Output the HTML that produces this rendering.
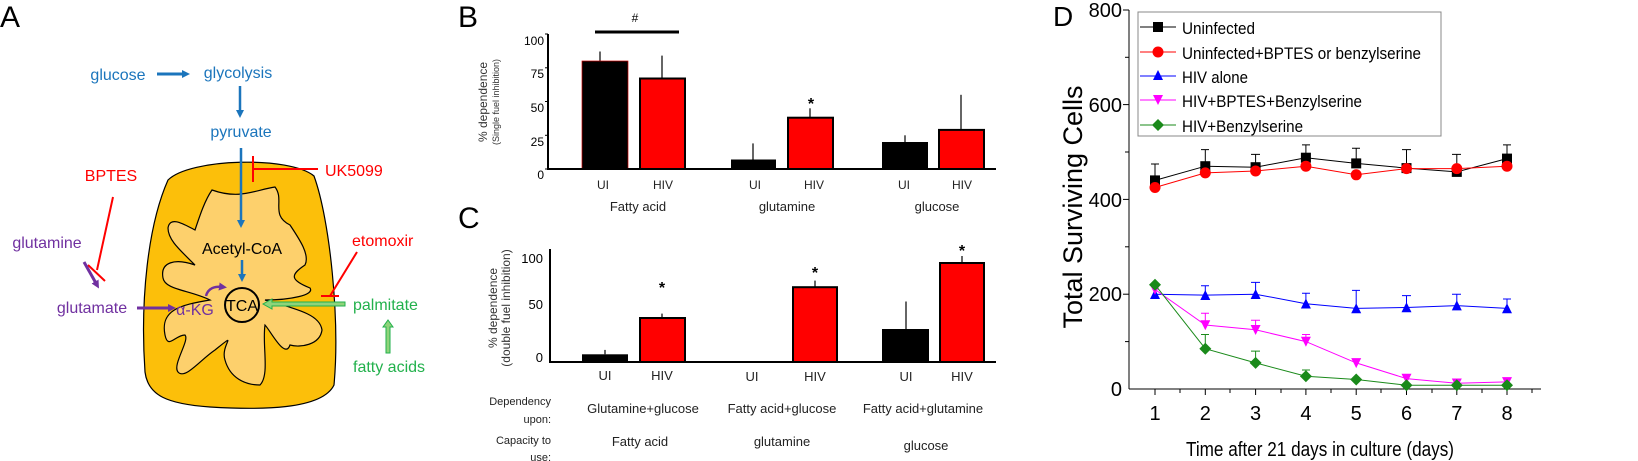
<!DOCTYPE html>
<html><head><meta charset="utf-8"><style>
html,body{margin:0;padding:0;background:#fff;}
svg{display:block;font-family:"Liberation Sans",sans-serif;}
</style></head><body>
<svg width="1638" height="461" viewBox="0 0 1638 461" xmlns="http://www.w3.org/2000/svg">
<defs>
<marker id="ab" markerUnits="userSpaceOnUse" markerWidth="8" markerHeight="8" refX="4" refY="4" orient="auto"><path d="M0,0 L8,4 L0,8z" fill="#1b75bc"/></marker>
<marker id="ap" markerUnits="userSpaceOnUse" markerWidth="8" markerHeight="8" refX="4" refY="4" orient="auto"><path d="M0,0 L8,4 L0,8z" fill="#7030a0"/></marker>
</defs>
<!-- Panel A -->
<text x="0" y="27" font-size="30">A</text>
<path d="M168,180 C190,158 290,156 314,176 C330,220 340,320 334,385 C322,410 260,410 210,407 C168,404 148,396 145,372 C140,300 148,225 168,180Z" fill="#fcbf0a" stroke="#000" stroke-width="1.2"/>
<path d="M212,190 C240,200 255,190 275,187 C285,200 270,215 290,225 C300,240 310,255 305,265 C290,275 290,280 310,288 C315,295 290,300 265,300 C300,310 320,315 322,330 C320,345 300,348 290,345 C285,360 270,330 265,325 C262,345 270,375 260,385 C245,385 230,378 225,360 C220,345 240,330 215,350 C200,360 185,380 178,372 C172,365 190,340 185,335 C175,335 168,350 165,335 C160,310 180,305 210,300 C190,290 165,290 163,278 C160,262 175,258 195,265 C180,250 168,240 168,228 C170,215 185,225 195,230 C200,215 205,200 212,190Z" fill="#fdd06c" stroke="#000" stroke-width="1.2"/>
<g font-size="16" fill="#1b75bc">
<text x="118" y="80" text-anchor="middle">glucose</text>
<text x="238" y="78" text-anchor="middle">glycolysis</text>
<text x="241" y="137" text-anchor="middle">pyruvate</text>
</g>
<line x1="157" y1="74" x2="186" y2="74" stroke="#1b75bc" stroke-width="3" marker-end="url(#ab)"/>
<line x1="240" y1="86" x2="240" y2="114" stroke="#1b75bc" stroke-width="2.5" marker-end="url(#ab)"/>
<line x1="241" y1="148" x2="241" y2="224" stroke="#1b75bc" stroke-width="2.5" marker-end="url(#ab)"/>
<line x1="242" y1="260" x2="242" y2="278" stroke="#1b75bc" stroke-width="2.5" marker-end="url(#ab)"/>
<g fill="#ff0000" font-size="16">
<text x="325" y="176">UK5099</text>
<text x="111" y="181" text-anchor="middle">BPTES</text>
<text x="352" y="246">etomoxir</text>
</g>
<path d="M318,169 L253,169 M253,156 L253,182" stroke="#ff0000" stroke-width="2" fill="none"/>
<path d="M113,197 L97,270 M88,265 L105,281" stroke="#ff0000" stroke-width="2" fill="none"/>
<path d="M357,252 L330,296 M321,296 L339,296" stroke="#ff0000" stroke-width="2" fill="none"/>
<g fill="#7030a0" font-size="16">
<text x="47" y="248" text-anchor="middle">glutamine</text>
<text x="92" y="313" text-anchor="middle">glutamate</text>
<text x="195" y="315" text-anchor="middle">α-KG</text>
</g>
<line x1="84" y1="262" x2="97" y2="285" stroke="#7030a0" stroke-width="3" marker-end="url(#ap)"/>
<line x1="137" y1="308" x2="172" y2="308" stroke="#7030a0" stroke-width="3" marker-end="url(#ap)"/>
<path d="M206,296 C208,288 215,286 223,287" stroke="#7030a0" stroke-width="2.5" fill="none" marker-end="url(#ap)"/>
<text x="242" y="254" font-size="16" text-anchor="middle" fill="#000">Acetyl-CoA</text>
<circle cx="242" cy="305" r="17" fill="none" stroke="#000" stroke-width="2"/>
<text x="242" y="311" font-size="16" text-anchor="middle">TCA</text>
<g fill="#22b14c" font-size="16">
<text x="353" y="310">palmitate</text>
<text x="353" y="372">fatty acids</text>
</g>
<path d="M345,302 L272,302 L272,299 L263,304 L272,309 L272,306 L345,306Z" fill="#8fd37a" stroke="#22b14c" stroke-width="1"/>
<path d="M386,353 L386,327 L383,327 L388,320 L393,327 L390,327 L390,353Z" fill="#8fd37a" stroke="#22b14c" stroke-width="1"/>

<!-- Panel B -->
<text x="458" y="27" font-size="30">B</text>
<line x1="595" y1="32" x2="679" y2="32" stroke="#000" stroke-width="3"/>
<text x="635" y="22" font-size="12" text-anchor="middle">#</text>
<g font-size="12" text-anchor="end">
<text x="544" y="45">100</text><text x="544" y="78">75</text><text x="544" y="112">50</text><text x="544" y="146">25</text><text x="544" y="179">0</text>
</g>
<g stroke="#000" stroke-width="1">
<line x1="545" y1="34" x2="548" y2="34"/><line x1="545" y1="67.8" x2="548" y2="67.8"/><line x1="545" y1="101.5" x2="548" y2="101.5"/><line x1="545" y1="135.3" x2="548" y2="135.3"/><line x1="545" y1="169" x2="548" y2="169"/>
</g>
<text transform="translate(487,102) rotate(-90)" font-size="12" text-anchor="middle" fill="#333">% dependence</text>
<text transform="translate(499,102) rotate(-90)" font-size="9" text-anchor="middle" fill="#333">(Single fuel inhibition)</text>
<g stroke="#000" stroke-width="1.2">
<line x1="600" y1="51.5" x2="600" y2="61"/><line x1="662" y1="55.6" x2="662" y2="78.5"/>
<line x1="753" y1="143.4" x2="753" y2="159.5"/><line x1="810" y1="108.3" x2="810" y2="117.7"/>
<line x1="905" y1="135.3" x2="905" y2="142"/><line x1="961" y1="94.8" x2="961" y2="129.9"/>
</g>
<rect x="582" y="61" width="46" height="108" fill="#000" stroke="#c00" stroke-width="0.7"/>
<rect x="640" y="78.5" width="45" height="90.5" fill="#f00" stroke="#000" stroke-width="2"/>
<rect x="731" y="159.5" width="45" height="9.5" fill="#000"/>
<rect x="788" y="117.7" width="45" height="51.3" fill="#f00" stroke="#000" stroke-width="2"/>
<rect x="882" y="142" width="46" height="27" fill="#000"/>
<rect x="939" y="129.9" width="45" height="39.1" fill="#f00" stroke="#000" stroke-width="2"/>
<line x1="548" y1="34" x2="548" y2="170" stroke="#000" stroke-width="2"/>
<line x1="547" y1="169" x2="996" y2="169" stroke="#000" stroke-width="2"/>
<text x="811" y="109" font-size="16" text-anchor="middle" font-weight="bold">*</text>
<g font-size="12" text-anchor="middle" fill="#222">
<text x="603" y="189">UI</text><text x="663" y="189">HIV</text>
<text x="755" y="189">UI</text><text x="814" y="189">HIV</text>
<text x="904" y="189">UI</text><text x="962" y="189">HIV</text>
</g>
<g font-size="13" text-anchor="middle" fill="#222">
<text x="638" y="211">Fatty acid</text><text x="787" y="211">glutamine</text><text x="937" y="211">glucose</text>
</g>

<!-- Panel C -->
<text x="458" y="228" font-size="30">C</text>
<g font-size="13" text-anchor="end">
<text x="543" y="263">100</text><text x="543" y="309">50</text><text x="543" y="362">0</text>
</g>
<text transform="translate(497,308) rotate(-90)" font-size="12" text-anchor="middle" fill="#333">% dependence</text>
<text transform="translate(510,308) rotate(-90)" font-size="12" text-anchor="middle" fill="#333">(double fuel inhibition)</text>
<g stroke="#000" stroke-width="1.2">
<line x1="605" y1="349.9" x2="605" y2="354.3"/><line x1="662" y1="313.6" x2="662" y2="318"/>
<line x1="815" y1="280.6" x2="815" y2="287.2"/><line x1="906" y1="301.5" x2="906" y2="329"/><line x1="962" y1="256" x2="962" y2="263"/>
</g>
<rect x="582" y="354.3" width="46" height="7.7" fill="#000"/>
<rect x="640" y="318" width="45" height="44" fill="#f00" stroke="#000" stroke-width="2"/>
<rect x="793" y="287.2" width="44" height="74.8" fill="#f00" stroke="#000" stroke-width="2"/>
<rect x="882" y="329" width="47" height="33" fill="#000"/>
<rect x="940" y="263" width="44" height="99" fill="#f00" stroke="#000" stroke-width="2"/>
<line x1="550" y1="249" x2="550" y2="363" stroke="#000" stroke-width="2"/>
<line x1="549" y1="362" x2="996" y2="362" stroke="#000" stroke-width="2"/>
<g font-size="16" text-anchor="middle" font-weight="bold">
<text x="662" y="293">*</text><text x="815" y="278">*</text><text x="962" y="256">*</text>
</g>
<g font-size="13" text-anchor="middle" fill="#222">
<text x="605" y="380">UI</text><text x="662" y="380">HIV</text>
<text x="752" y="381">UI</text><text x="815" y="381">HIV</text>
<text x="906" y="381">UI</text><text x="962" y="381">HIV</text>
</g>
<g font-size="11" text-anchor="end" fill="#222">
<text x="551" y="405">Dependency</text><text x="551" y="423">upon:</text>
<text x="551" y="444">Capacity to</text><text x="551" y="461">use:</text>
</g>
<g font-size="13" text-anchor="middle" fill="#222">
<text x="643" y="413">Glutamine+glucose</text><text x="782" y="413">Fatty acid+glucose</text><text x="923" y="413">Fatty acid+glutamine</text>
<text x="640" y="446">Fatty acid</text><text x="782" y="446">glutamine</text><text x="926" y="450">glucose</text>
</g>

<!-- Panel D -->
<text x="1053" y="26" font-size="28">D</text>
<g font-size="20" text-anchor="end">
<text x="1122" y="17">800</text><text x="1122" y="112">600</text><text x="1122" y="207">400</text><text x="1122" y="301">200</text><text x="1122" y="396">0</text>
</g>
<g stroke="#000" stroke-width="1">
<line x1="1129" y1="10" x2="1129" y2="389"/>
<line x1="1129" y1="389" x2="1541" y2="389"/>
<line x1="1123" y1="10" x2="1129" y2="10"/><line x1="1123" y1="104.6" x2="1129" y2="104.6"/><line x1="1123" y1="199.4" x2="1129" y2="199.4"/><line x1="1123" y1="294.2" x2="1129" y2="294.2"/>
<line x1="1125" y1="57.3" x2="1129" y2="57.3"/><line x1="1125" y1="152" x2="1129" y2="152"/><line x1="1125" y1="246.8" x2="1129" y2="246.8"/><line x1="1125" y1="341.6" x2="1129" y2="341.6"/>
<line x1="1155" y1="389" x2="1155" y2="395"/><line x1="1205.3" y1="389" x2="1205.3" y2="395"/><line x1="1255.6" y1="389" x2="1255.6" y2="395"/><line x1="1305.9" y1="389" x2="1305.9" y2="395"/><line x1="1356.2" y1="389" x2="1356.2" y2="395"/><line x1="1406.5" y1="389" x2="1406.5" y2="395"/><line x1="1456.8" y1="389" x2="1456.8" y2="395"/><line x1="1507" y1="389" x2="1507" y2="395"/>
<line x1="1180" y1="389" x2="1180" y2="393"/><line x1="1230" y1="389" x2="1230" y2="393"/><line x1="1281" y1="389" x2="1281" y2="393"/><line x1="1331" y1="389" x2="1331" y2="393"/><line x1="1381" y1="389" x2="1381" y2="393"/><line x1="1432" y1="389" x2="1432" y2="393"/><line x1="1482" y1="389" x2="1482" y2="393"/><line x1="1532" y1="389" x2="1532" y2="393"/>
</g>
<g font-size="20" text-anchor="middle">
<text x="1155" y="420">1</text><text x="1205.3" y="420">2</text><text x="1255.6" y="420">3</text><text x="1305.9" y="420">4</text><text x="1356.2" y="420">5</text><text x="1406.5" y="420">6</text><text x="1456.8" y="420">7</text><text x="1507" y="420">8</text>
</g>
<text x="1320" y="456" font-size="20" text-anchor="middle" textLength="268" lengthAdjust="spacingAndGlyphs">Time after 21 days in culture (days)</text>
<text transform="translate(1082,207) rotate(-90)" font-size="27" text-anchor="middle">Total Surviving Cells</text>
<g stroke="#000" stroke-width="1">
<path d="M1155,164 V180 M1151,164 H1159 M1205.3,149.6 V166 M1201,149.6 H1209 M1255.6,154.4 V167 M1251,154.4 H1260 M1305.9,144.9 V158 M1302,144.9 H1310 M1356.2,148.2 V163 M1352,148.2 H1360 M1406.5,149.6 V168 M1402,149.6 H1411 M1456.8,154.4 V172 M1452,154.4 H1461 M1507,144.9 V159 M1503,144.9 H1511"/>
</g>
<g stroke="#00f" stroke-width="1">
<path d="M1205.3,285.7 V295 M1201,285.7 H1209 M1255.6,282.4 V294 M1251,282.4 H1260 M1305.9,293.3 V303 M1302,293.3 H1310 M1356.2,290.4 V308 M1352,290.4 H1360 M1406.5,295.6 V307 M1402,295.6 H1411 M1456.8,294.2 V305 M1452,294.2 H1461 M1507,299 V308 M1503,299 H1511"/>
</g>
<g stroke="#f0f" stroke-width="1">
<path d="M1205.3,313.2 V325 M1201,313.2 H1209 M1255.6,320.3 V330 M1251,320.3 H1260 M1305.9,334.5 V341 M1302,334.5 H1310"/>
</g>
<g stroke="#1a8a1a" stroke-width="1">
<path d="M1205.3,334.5 V348 M1201,334.5 H1209 M1255.6,351.1 V362 M1251,351.1 H1260 M1305.9,370 V376 M1302,370 H1310"/>
</g>
<polyline points="1155,180.4 1205.3,166.2 1255.6,167.2 1305.9,157.7 1356.2,163.4 1406.5,168.1 1456.8,171.9 1507,158.6" fill="none" stroke="#000" stroke-width="1"/>
<g fill="#000"><rect x="1150" y="175.4" width="10" height="10"/><rect x="1200.3" y="161.2" width="10" height="10"/><rect x="1250.6" y="162.2" width="10" height="10"/><rect x="1300.9" y="152.7" width="10" height="10"/><rect x="1351.2" y="158.4" width="10" height="10"/><rect x="1401.5" y="163.1" width="10" height="10"/><rect x="1451.8" y="166.9" width="10" height="10"/><rect x="1502" y="153.6" width="10" height="10"/></g>
<polyline points="1155,187.5 1205.3,172.9 1255.6,171 1305.9,166.2 1356.2,174.8 1406.5,168.6 1456.8,168.6 1507,166.2" fill="none" stroke="#f00" stroke-width="1"/>
<g fill="#f00"><circle cx="1155" cy="187.5" r="5.5"/><circle cx="1205.3" cy="172.9" r="5.5"/><circle cx="1255.6" cy="171" r="5.5"/><circle cx="1305.9" cy="166.2" r="5.5"/><circle cx="1356.2" cy="174.8" r="5.5"/><circle cx="1406.5" cy="168.6" r="5.5"/><circle cx="1456.8" cy="168.6" r="5.5"/><circle cx="1507" cy="166.2" r="5.5"/></g>
<polyline points="1155,294.2 1205.3,295.1 1255.6,294.2 1305.9,303.7 1356.2,308.4 1406.5,307.5 1456.8,305.6 1507,308.4" fill="none" stroke="#00f" stroke-width="1"/>
<g fill="#00f">
<path d="M1150,299 l5,-10 l5,10z M1200.3,300 l5,-10 l5,10z M1250.6,299 l5,-10 l5,10z M1300.9,308.5 l5,-10 l5,10z M1351.2,313.2 l5,-10 l5,10z M1401.5,312.3 l5,-10 l5,10z M1451.8,310.4 l5,-10 l5,10z M1502,313.2 l5,-10 l5,10z"/></g>
<polyline points="1155,289.5 1205.3,325 1255.6,329.8 1305.9,341.6 1356.2,362.9 1406.5,378.6 1456.8,383.3 1507,381.9" fill="none" stroke="#f0f" stroke-width="1"/>
<g fill="#f0f">
<path d="M1150,284.7 l5,10 l5,-10z M1200.3,320.2 l5,10 l5,-10z M1250.6,325 l5,10 l5,-10z M1300.9,336.8 l5,10 l5,-10z M1351.2,358.1 l5,10 l5,-10z M1401.5,373.8 l5,10 l5,-10z M1451.8,378.5 l5,10 l5,-10z M1502,377.1 l5,10 l5,-10z"/></g>
<polyline points="1155,284.7 1205.3,348.7 1255.6,362.9 1305.9,376.2 1356.2,379.5 1406.5,385.2 1456.8,385.2 1507,385.2" fill="none" stroke="#1a8a1a" stroke-width="1"/>
<g fill="#1a8a1a">
<path d="M1155,278.7 l6,6 l-6,6 l-6,-6z M1205.3,342.7 l6,6 l-6,6 l-6,-6z M1255.6,356.9 l6,6 l-6,6 l-6,-6z M1305.9,370.2 l6,6 l-6,6 l-6,-6z M1356.2,373.5 l6,6 l-6,6 l-6,-6z M1406.5,379.2 l6,6 l-6,6 l-6,-6z M1456.8,379.2 l6,6 l-6,6 l-6,-6z M1507,379.2 l6,6 l-6,6 l-6,-6z"/></g>
<rect x="1138" y="12" width="303" height="124" fill="#fff" stroke="#888" stroke-width="1"/>
<g stroke-width="1">
<line x1="1140" y1="27" x2="1176" y2="27" stroke="#000"/><rect x="1153" y="22" width="10" height="10" fill="#000"/>
<line x1="1140" y1="52" x2="1176" y2="52" stroke="#f00"/><circle cx="1158" cy="52" r="5.5" fill="#f00"/>
<line x1="1140" y1="76" x2="1176" y2="76" stroke="#00f"/><path d="M1153,80 l5,-10 l5,10z" fill="#00f"/>
<line x1="1140" y1="100" x2="1176" y2="100" stroke="#f0f"/><path d="M1153,95 l5,10 l5,-10z" fill="#f0f"/>
<line x1="1140" y1="125" x2="1176" y2="125" stroke="#1a8a1a"/><path d="M1158,119 l6,6 l-6,6 l-6,-6z" fill="#1a8a1a"/>
</g>
<g font-size="17">
<text x="1182" y="34" textLength="73" lengthAdjust="spacingAndGlyphs">Uninfected</text>
<text x="1182" y="59" textLength="239" lengthAdjust="spacingAndGlyphs">Uninfected+BPTES or benzylserine</text>
<text x="1182" y="83" textLength="66" lengthAdjust="spacingAndGlyphs">HIV alone</text>
<text x="1182" y="107" textLength="180" lengthAdjust="spacingAndGlyphs">HIV+BPTES+Benzylserine</text>
<text x="1182" y="132" textLength="121" lengthAdjust="spacingAndGlyphs">HIV+Benzylserine</text>
</g>
</svg>
</body></html>
